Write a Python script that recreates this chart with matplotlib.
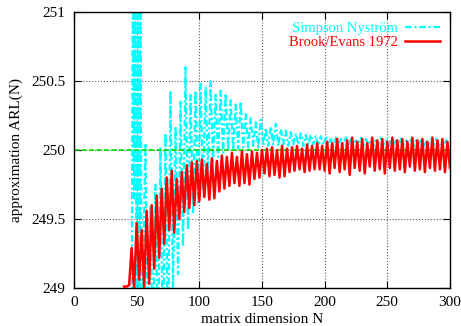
import matplotlib
matplotlib.use("Agg")
import matplotlib.pyplot as plt

# target ARL (green reference line)
target_arl = 250.0

# Brook/Evans 1972: zigzag, peaks at N, troughs at N+2
red_lead_n = [40, 42, 44]
red_lead = [249.01, 249.01, 249.02]
red_peak_n = list(range(46, 299, 4))
red_peak = [249.29, 249.47, 249.42, 249.56, 249.60, 249.67, 249.72, 249.80, 249.85, 249.79,
            249.84, 249.89, 249.91, 249.92, 249.93, 249.90, 249.94, 249.92, 249.96, 249.95,
            249.98, 249.95, 249.99, 249.97, 249.99, 249.98, 250.00, 250.01, 250.02, 250.00,
            250.03, 250.01, 250.02, 250.03, 250.01, 250.04, 250.03, 250.05, 250.03, 250.06,
            250.05, 250.08, 250.05, 250.07, 250.09, 250.06, 250.08, 250.05, 250.09, 250.07,
            250.08, 250.06, 250.09, 250.07, 250.08, 250.06, 250.09, 250.07, 250.08, 250.06,
            250.09, 250.07, 250.08, 250.06]
red_trough = [248.99, 249.06, 249.00, 249.03, 249.14, 249.22, 249.32, 249.42, 249.40, 249.50,
              249.55, 249.58, 249.60, 249.63, 249.66, 249.64, 249.65, 249.70, 249.72, 249.74,
              249.76, 249.74, 249.76, 249.75, 249.79, 249.80, 249.83, 249.81, 249.82, 249.80,
              249.81, 249.84, 249.85, 249.86, 249.84, 249.85, 249.86, 249.86, 249.85, 249.83,
              249.87, 249.84, 249.86, 249.82, 249.87, 249.85, 249.83, 249.88, 249.85, 249.86,
              249.83, 249.87, 249.85, 249.86, 249.84, 249.88, 249.85, 249.86, 249.84, 249.87,
              249.85, 249.86, 249.84, 249.87]

# Simpson Nystroem: wild start, then zigzag, peaks at N, troughs at N+2
cyan_head_n = [46, 47, 48, 49, 50, 51, 52, 53, 54, 57, 59]
cyan_head = [248.5, 251.5, 249.65, 251.5, 248.5, 251.5, 248.5, 251.5, 248.5, 250.05, 248.5]
cyan_peak_n = list(range(61, 298, 4))
cyan_peak = [249.60, 249.75, 250.02, 250.12, 250.43, 250.17, 250.35, 250.60, 250.40, 250.43,
             250.48, 250.46, 250.50, 250.40, 250.43, 250.41, 250.36, 250.33, 250.35, 250.26,
             250.23, 250.20, 250.22, 250.16, 250.17, 250.19, 250.15, 250.14, 250.13, 250.12,
             250.12, 250.11, 250.11, 250.10, 250.10, 250.09, 250.08, 250.09, 250.08, 250.09,
             250.08, 250.07, 250.09, 250.08, 250.07, 250.08, 250.09, 250.07, 250.08, 250.07,
             250.08, 250.07, 250.08, 250.07, 250.08, 250.06, 250.07, 250.08, 250.06, 250.07]
cyan_trough = [248.5, 248.5, 248.5, 248.5, 249.00, 249.10, 249.30, 249.42, 249.55, 249.62,
               249.72, 249.84, 249.92, 249.95, 249.98, 250.00, 250.00, 250.01, 250.02, 250.02,
               250.03, 250.02, 250.03, 250.03, 250.04, 250.03, 250.04, 250.03, 250.04, 250.04,
               250.03, 250.04, 250.04, 250.03, 250.04, 250.04, 250.03, 250.04, 250.04, 250.03,
               250.04, 250.04, 250.03, 250.04, 250.03, 250.04, 250.04, 250.03, 250.04, 250.03,
               250.04, 250.04, 250.03, 250.04, 250.03, 250.04, 250.04, 250.03, 250.04, 250.03]


def zigzag(lead_n, lead_v, peak_n, peak_v, trough_v):
    xs, ys = list(lead_n), list(lead_v)
    for n, hi, lo in zip(peak_n, peak_v, trough_v):
        xs += [n, n + 2]
        ys += [hi, lo]
    return xs, ys


plt.rcParams['font.family'] = ['Liberation Serif', 'DejaVu Serif']
plt.rcParams['font.size'] = 11

fig = plt.figure(figsize=(4.61, 3.26), dpi=100)
ax = fig.add_axes([0.1605, 0.1166, 0.976 - 0.1605, 0.963 - 0.1166])

cx, cy = zigzag(cyan_head_n, cyan_head, cyan_peak_n, cyan_peak, cyan_trough)
rx, ry = zigzag(red_lead_n, red_lead, red_peak_n, red_peak, red_trough)

ax.plot(cx, cy, color='#00ffff', lw=1.6, ls=(0, (3, 1.2, 1, 1.2)),
        label='Simpson Nyström', zorder=2)
ax.axhline(target_arl, color='#00dd00', lw=1.2, ls=(0, (3, 1.5)), zorder=2.5)
ax.plot(rx, ry, color='#ff0000', lw=1.8, label='Brook/Evans 1972', zorder=3)

ax.set_xlim(0, 300)
ax.set_ylim(249, 251)
ax.set_xticks([0, 50, 100, 150, 200, 250, 300])
ax.set_yticks([249, 249.5, 250, 250.5, 251])
ax.set_yticklabels(['249', '249.5', '250', '250.5', '251'])
ax.tick_params(direction='in', top=True, right=True, length=5, width=0.8, pad=6)
ax.grid(True, ls=':', color='0.35', lw=0.8)
for s in ax.spines.values():
    s.set_linewidth(1.0)

ax.set_xlabel('matrix dimension N', labelpad=3)
ax.set_ylabel('approximation ARL(N)', labelpad=6)

leg = ax.legend(loc='upper right', frameon=False, markerfirst=False,
                handlelength=2.4, handletextpad=0.45, labelspacing=0.0,
                borderaxespad=0.5, borderpad=0.2, fontsize=10.5)
for t, c in zip(leg.get_texts(), ['#00ffff', '#ff0000']):
    t.set_color(c)

fig.savefig('out.png', dpi=100)
